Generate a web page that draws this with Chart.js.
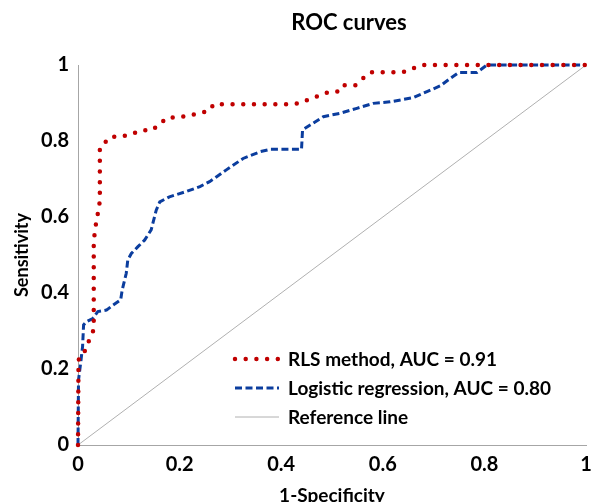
<!DOCTYPE html>
<html>
<head>
    <title>ROC curves</title>
    <script src="https://cdn.jsdelivr.net/npm/chart.js"></script>
    <style>
        html, body { margin: 0; padding: 0; background: #fff; }
        #wrap { width: 592px; height: 502px; }
    </style>
    <script>
        // values (1-specificity on x, sensitivity on y)
        const rlsX = [0, 0.001, 0.011, 0.017, 0.026, 0.031, 0.031, 0.033, 0.036, 0.040, 0.043, 0.043, 0.054, 0.064, 0.085,
            0.105, 0.125, 0.146, 0.161, 0.176, 0.197, 0.218, 0.238, 0.259, 0.267, 0.415, 0.436, 0.456, 0.476, 0.495,
            0.516, 0.525, 0.546, 0.561, 0.576, 0.639, 0.659, 0.679, 1];
        const rlsY = [0, 0.224, 0.237, 0.263, 0.285, 0.305, 0.531, 0.561, 0.587, 0.616, 0.642, 0.783, 0.797, 0.811, 0.811,
            0.818, 0.828, 0.828, 0.845, 0.862, 0.862, 0.867, 0.873, 0.880, 0.897, 0.897, 0.899, 0.910, 0.920, 0.930,
            0.930, 0.947, 0.947, 0.965, 0.981, 0.981, 0.991, 1, 1];

        const logX = [0, 0.001, 0.006, 0.009, 0.011, 0.016, 0.029, 0.039, 0.056, 0.069, 0.084, 0.087, 0.095, 0.098, 0.105,
            0.118, 0.131, 0.144, 0.154, 0.161, 0.180, 0.213, 0.240, 0.259, 0.273, 0.292, 0.325, 0.359, 0.378, 0.440,
            0.442, 0.457, 0.483, 0.516, 0.549, 0.581, 0.614, 0.660, 0.687, 0.713, 0.733, 0.749, 0.785, 0.805, 1];
        const logY = [0, 0.171, 0.224, 0.259, 0.316, 0.324, 0.333, 0.351, 0.355, 0.368, 0.382, 0.408, 0.452, 0.487, 0.504,
            0.522, 0.539, 0.566, 0.618, 0.640, 0.653, 0.667, 0.680, 0.693, 0.706, 0.724, 0.754, 0.772, 0.778, 0.778,
            0.829, 0.842, 0.864, 0.873, 0.886, 0.899, 0.903, 0.914, 0.930, 0.945, 0.965, 0.980, 0.980, 1, 1];

        const refX = [0, 1];
        const refY = [0, 1];

        const titleText = 'ROC curves';
        const seriesLabels = ['RLS method, AUC = 0.91', 'Logistic regression, AUC = 0.80', 'Reference line'];
        const xTickLabels = ['0', '0.2', '0.4', '0.6', '0.8', '1'];
        const yTickLabels = ['0', '0.2', '0.4', '0.6', '0.8', '1'];

        const toPoints = (xs, ys) => xs.map((x, i) => ({ x: x, y: ys[i] }));
        const tickText = (labels) => (v) => labels[Math.round(v * 5)] ?? '';

        const FONT = 'Lato, "Liberation Sans", sans-serif';

        // title sits a bit right of centre, legend sits inside the plot
        const extras = {
            id: 'extras',
            afterDatasetsDraw(chart) {
                const ctx = chart.ctx;
                ctx.save();
                ctx.fillStyle = '#000';
                ctx.font = 'bold 22px ' + FONT;
                ctx.textAlign = 'center';
                ctx.textBaseline = 'middle';
                ctx.fillText(titleText, 349, 23);

                ctx.textAlign = 'left';
                ctx.font = 'bold 19px ' + FONT;
                chart.data.datasets.forEach((ds, i) => {
                    const y = 359 + i * 29;
                    ctx.beginPath();
                    ctx.strokeStyle = ds.borderColor;
                    ctx.lineWidth = ds.borderWidth;
                    ctx.lineCap = ds.borderCapStyle || 'butt';
                    ctx.setLineDash(ds.borderDash || []);
                    ctx.moveTo(235, y);
                    ctx.lineTo(279, y);
                    ctx.stroke();
                    ctx.setLineDash([]);
                    ctx.fillText(ds.label, 288, y + 1);
                });
                ctx.restore();
            }
        };

        window.onload = function () {
            const ctx = document.getElementById('rocChart').getContext('2d');
            new Chart(ctx, {
                type: 'scatter',
                data: {
                    datasets: [{
                        label: seriesLabels[0],
                        data: toPoints(rlsX, rlsY),
                        showLine: true,
                        borderColor: '#c00000',
                        borderWidth: 4.5,
                        borderDash: [0, 10.7],
                        borderCapStyle: 'round',
                        pointRadius: 0,
                        tension: 0,
                        clip: false
                    }, {
                        label: seriesLabels[1],
                        data: toPoints(logX, logY),
                        showLine: true,
                        borderColor: '#0b3d9e',
                        borderWidth: 3,
                        borderDash: [7, 3.5],
                        borderCapStyle: 'butt',
                        pointRadius: 0,
                        tension: 0,
                        clip: false
                    }, {
                        label: seriesLabels[2],
                        data: toPoints(refX, refY),
                        showLine: true,
                        borderColor: '#b0b0b0',
                        borderWidth: 1,
                        pointRadius: 0,
                        clip: false
                    }]
                },
                options: {
                    responsive: false,
                    animation: false,
                    layout: { padding: { left: 0, right: 0, top: 65, bottom: -10 } },
                    plugins: {
                        legend: { display: false },
                        tooltip: { enabled: false },
                        title: { display: false }
                    },
                    scales: {
                        x: {
                            type: 'linear',
                            min: 0,
                            max: 1,
                            grid: { display: false, drawTicks: false },
                            border: { display: true, color: '#a6a6a6', width: 1 },
                            ticks: {
                                stepSize: 0.2,
                                padding: 8,
                                color: '#000',
                                font: { family: FONT, size: 20, weight: 'bold' },
                                callback: tickText(xTickLabels)
                            },
                            title: {
                                display: true,
                                text: '1-Specificity',
                                color: '#000',
                                font: { family: FONT, size: 19, weight: 'bold' },
                                padding: { top: 0, bottom: 5 }
                            },
                            afterFit: (s) => { s.height = 67; s.paddingRight = 6; }
                        },
                        y: {
                            type: 'linear',
                            min: 0,
                            max: 1,
                            grid: { display: false, drawTicks: false },
                            border: { display: true, color: '#a6a6a6', width: 1 },
                            ticks: {
                                stepSize: 0.2,
                                padding: 9,
                                color: '#000',
                                font: { family: FONT, size: 20, weight: 'bold' },
                                callback: tickText(yTickLabels)
                            },
                            title: {
                                display: true,
                                text: 'Sensitivity',
                                color: '#000',
                                font: { family: FONT, size: 18, weight: 'bold' },
                                padding: { top: 11, bottom: 0 }
                            },
                            afterFit: (s) => { s.width = 78; }
                        }
                    }
                },
                plugins: [extras]
            });
        };
    </script>
</head>
<body>
<div id="wrap">
    <canvas id="rocChart" width="592" height="502"></canvas>
</div>
</body>
</html>
